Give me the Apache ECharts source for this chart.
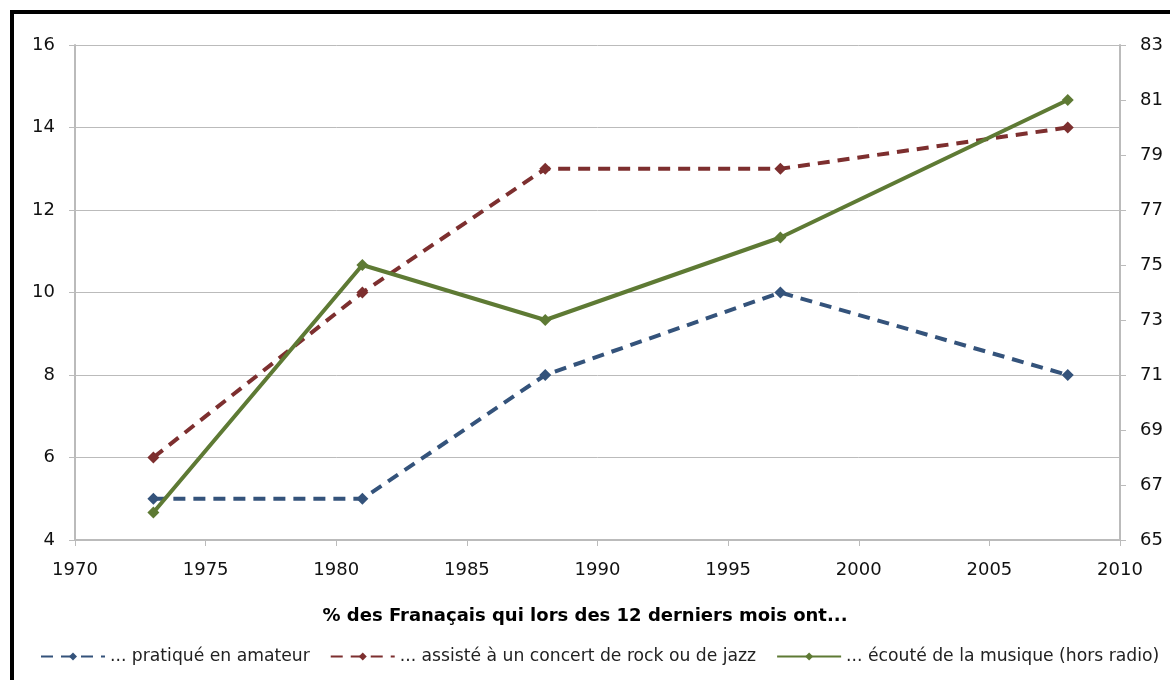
<!DOCTYPE html>
<html lang="fr">
<head>
<meta charset="UTF-8">
<title>Musique</title>
<script src="https://cdn.jsdelivr.net/npm/echarts@6/dist/echarts.min.js"></script>
<style>
  body { margin:0; background:#fff; }
  #frame { position:absolute; left:10px; top:10px; width:1200px; height:720px; border:4px solid #000; box-sizing:border-box; }
  #chart { position:absolute; left:0; top:0; width:1170px; height:680px; }
</style>
</head>
<body>
<div id="frame"></div>
<div id="chart"></div>
<script>
var years = [1973, 1981, 1988, 1997, 2008];
var amateur = [5, 5, 8, 10, 8];
var concert = [6, 10, 13, 13, 14];
var ecoute = [66, 75, 73, 76, 81];
var seriesNames = ['... pratiqué en amateur', '... assisté à un concert de rock ou de jazz', '... écouté de la musique (hors radio)'];
var titleText = '% des Franaçais qui lors des 12 derniers mois ont...';

function pairs(vals) {
    return years.map(function (y, i) { return [y, vals[i]]; });
}

var myChart = echarts.init(document.getElementById('chart'));
var font = '"DejaVu Sans", Verdana, sans-serif';
var option = {
    animation: false,
    textStyle: { fontFamily: font },
    title: {
        text: titleText,
        left: 'center',
        top: 602,
        textStyle: { fontSize: 18, fontWeight: 'bold', color: '#000', fontFamily: font }
    },
    legend: {
        top: 648,
        left: 40,
        width: 1130,
        padding: 0,
        itemWidth: 64,
        itemHeight: 10,
        itemGap: 20,
        textStyle: { fontSize: 17.2, color: '#222', fontFamily: font },
        data: seriesNames
    },
    grid: { left: 75, right: 50, top: 45, bottom: 140 },
    xAxis: {
        type: 'value', min: 1970, max: 2010, interval: 5,
        axisLine: { lineStyle: { color: '#bbb', width: 2 } },
        axisTick: { lineStyle: { color: '#bbb' }, length: 6 },
        axisLabel: { color: '#111', fontSize: 18, margin: 21, fontFamily: font,
            formatter: function (v) { return String(v); } },
        splitLine: { show: false }
    },
    yAxis: [{
        type: 'value', min: 4, max: 16, interval: 2,
        axisLine: { show: true, lineStyle: { color: '#bbb', width: 2 } },
        axisTick: { show: true, lineStyle: { color: '#bbb' }, length: 6 },
        axisLabel: { color: '#111', fontSize: 18, margin: 20, fontFamily: font },
        splitLine: { lineStyle: { color: '#bbb', width: 1 } }
    }, {
        type: 'value', min: 65, max: 83, interval: 2,
        axisLine: { show: true, lineStyle: { color: '#bbb', width: 2 } },
        axisTick: { show: true, lineStyle: { color: '#bbb' }, length: 6 },
        axisLabel: { color: '#111', fontSize: 18, margin: 20, fontFamily: font },
        splitLine: { show: false }
    }],
    series: [{
        name: seriesNames[0], type: 'line', data: pairs(amateur),
        symbol: 'diamond', symbolSize: 12,
        itemStyle: { color: '#34537b' },
        lineStyle: { width: 4, type: [12, 8], color: '#34537b' }
    }, {
        name: seriesNames[1], type: 'line', data: pairs(concert),
        symbol: 'diamond', symbolSize: 12,
        itemStyle: { color: '#7d2f2f' },
        lineStyle: { width: 4, type: [12, 8], color: '#7d2f2f' }
    }, {
        name: seriesNames[2], type: 'line', yAxisIndex: 1, data: pairs(ecoute),
        symbol: 'diamond', symbolSize: 12,
        itemStyle: { color: '#5e7a34' },
        lineStyle: { width: 4, color: '#5e7a34' },
        z: 3
    }]
};
myChart.setOption(option);
</script>
</body>
</html>
